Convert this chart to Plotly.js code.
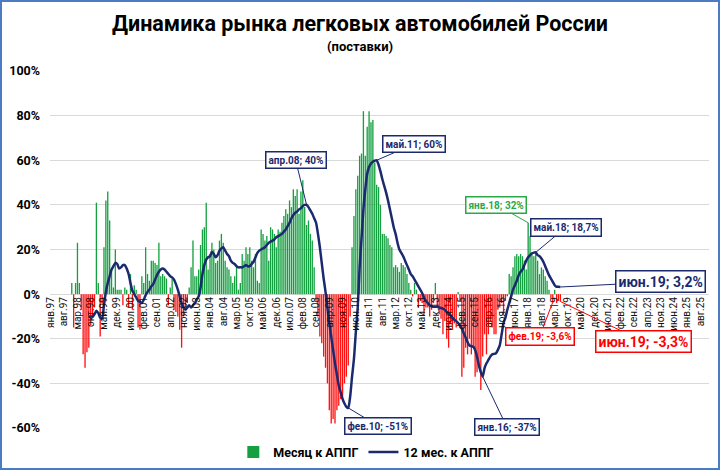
<!DOCTYPE html>
<html>
<head>
<meta charset="utf-8">
<script src="https://cdn.plot.ly/plotly-3.0.1.min.js"></script>
<style>
body { margin: 0; background: #fff; }
#chart { width: 716px; height: 466px; border: 2px solid #4a7bc4; }
</style>
</head>
<body>
<div id="chart"></div>
<script>
var monthNames = ['янв', 'фев', 'мар', 'апр', 'май', 'июн', 'июл', 'авг', 'сен', 'окт', 'ноя', 'дек'];
var firstYear = 1997;
var lastYear = 2025;

// Месяц к АППГ, %, янв.97 - июн.19
var monthly = [
    null, null, null, null, null, null, null, null, null, null, null, 5,   // 1997
    -15, 5, 23, 5, -7, -27, -33, -26, -24, -14, -10, -6,                  // 1998
    41, 5, -19, -4, 21, 42, 46, 33, 12, 3, 20, 2,                         // 1999
    2, 2, -5, 3, 2, -6, 9, -7, 4, 2, -15, -16,                            // 2000
    8, 5, 21, 9, 6, 15, 15, 14, 13, 23, 8, 9,                             // 2001
    8, 7, -5, 3, 7, -7, -8, -10, -16, -24, -10, -6,                       // 2002
    -4, 3, 12, 24, 8, 8, 11, 22, 29, 30, 41, 11,                          // 2003
    18, 23, 20, 14, 15, 24, 27, 23, 15, 12, 11, 8,                        // 2004
    5, 8, 12, 2, 5, 18, 15, 21, 18, 21, 15, 12,                           // 2005
    18, 6, 5, 29, 27, 24, 26, 15, 30, 29, 27, 21,                         // 2006
    29, 28, 32, 35, 38, 36, 42, 39, 47, 44, 47, 36,                       // 2007
    46, 51, 39, 31, 33, 27, 24, 12, -3, -10, -19, -22,                    // 2008
    -28, -33, -40, -52, -58, -56, -58, -52, -50, -47, -46, -40,           // 2009
    -37, -32, -10, 21, 35, 47, 53, 62, 63, 82, 62, 75,                    // 2010
    82, 77, 78, 59, 49, 48, 40, 27, 27, 26, 25, 22,                       // 2011
    21, 12, 13, 12, 10, 14, 13, 12, 9, 5, 2, -1,                          // 2012
    5, 2, -6, -3, -4, -9, -6, -6, -10, -7, -4, 5,                         // 2013
    -6, -9, -11, -18, -12, -20, -24, -13, -16, -13, -15, 1,               // 2014
    -3, -37, -33, -24, -27, -20, -27, -24, -37, -35, -33, -43,            // 2015
    -28, -18, -27, -18, -12, -15, -18, -18, -7, -6, -4, -9,               // 2016
    -3, -1, 9, 8, 12, 17, 18, 17, 18, 17, 15, 11,                         // 2017
    32, 26, 18, 17, 19, 15, 9, 12, 11, 8, 6, 2,                           // 2018
    -2, -3.6, 2, -4, -3, -3.3                                             // 2019
];

// 12 мес. к АППГ, %, сен.98 - июн.19
var rollingStart = 20;
var rolling12 = [
    -10, -10, -10, -9,                                                    // 1998
    -7.5, -8.5, -10.5, -11, -5, 1, 5, 8, 11, 12.5, 14, 13.5,              // 1999
    11.5, 12, 13, 13, 11.5, 9, 5, 1.5, 0, -1.5, -3, -3.5,                 // 2000
    -4, -2.5, -0.5, 1, 2, 3.5, 4.5, 6.5, 8.5, 10, 11, 11.5,               // 2001
    11, 10, 9, 8, 7.5, 6.5, 4.5, 2, -1, -4, -6, -7,                       // 2002
    -6, -5, -6, -5, -4, -2.5, -1, 3, 9, 13, 15.5, 16.5,                   // 2003
    17, 19, 18, 16.5, 17.5, 19.5, 20.5, 21, 19.5, 18, 17, 15,             // 2004
    14, 13.5, 12.5, 12, 12, 12, 12.5, 13, 12.5, 12.5, 13.5, 14.5,         // 2005
    16.5, 18.5, 19.5, 20, 20.5, 21, 22, 23, 23.5, 24, 24.5, 25.5,         // 2006
    26, 26.5, 27, 28, 29, 30.5, 32, 34, 35.5, 36.5, 37, 38,               // 2007
    38.5, 39.5, 40, 40, 39, 37.5, 36, 34, 32, 27, 21, 14,                 // 2008
    7, 1, -6, -13, -19, -25, -31, -36, -41, -44, -47, -49,                // 2009
    -50.5, -51, -46, -37, -29, -17, -6, 12, 25, 38, 47, 54,               // 2010
    57, 58.5, 59.3, 59.8, 60, 58, 55, 51.5, 48.5, 45.5, 42, 38,           // 2011
    34, 30, 27, 23, 20, 18.5, 17, 15, 13, 11, 9, 8,                       // 2012
    6.5, 5, 3.5, 2, 0.5, -1.5, -3, -4, -5, -5.5, -5.7, -5.7,              // 2013
    -5.7, -6, -6.2, -6.5, -7, -8, -8.5, -9.5, -10.5, -11.5, -12, -13,     // 2014
    -14, -15.5, -17.5, -19.5, -21.5, -23, -23.3, -23.6, -25, -28, -32, -35, // 2015
    -37, -33, -31, -29.5, -28, -27, -26.8, -26.5, -25, -23, -18, -13,     // 2016
    -10.5, -7, -4, -1, 2, 4, 6, 8.5, 10, 11, 13, 15,                      // 2017
    16.5, 17.5, 18.3, 18.6, 18.7, 17.5, 17, 16, 14.5, 12.5, 10.5, 8.5,    // 2018
    7, 5.5, 4, 3.3, 3.3, 3.2                                              // 2019
];

var yTicks = [-60, -40, -20, 0, 20, 40, 60, 80, 100];

// категории: все месяцы с янв.97 по дек.25
var categories = [];
for (var yr = firstYear; yr <= lastYear; yr++) {
    for (var mo = 0; mo < 12; mo++) {
        categories.push(monthNames[mo] + '.' + String(yr).slice(2));
    }
}
var tickLabels = categories.filter(function (c, i) { return i % 7 === 0; });

var barX = categories.slice(0, monthly.length);
var positive = monthly.map(function (v) { return v !== null && v >= 0 ? v : null; });
var negative = monthly.map(function (v) { return v !== null && v < 0 ? v : null; });

var navy = '#1b2a6e';
var red = '#ff0000';
var green = '#2aa84a';

var data = [
    {
        x: barX, y: positive, type: 'bar', name: 'Месяц к АППГ',
        marker: { color: '#14a040' }, hoverinfo: 'skip'
    },
    {
        x: barX, y: negative, type: 'bar', name: 'Месяц к АППГ (-)',
        marker: { color: '#ff1010' }, showlegend: false, hoverinfo: 'skip'
    },
    {
        x: categories.slice(rollingStart, rollingStart + rolling12.length),
        y: rolling12, type: 'scatter', mode: 'lines', name: '12 мес. к АППГ',
        line: { color: navy, width: 2.5, shape: 'spline', smoothing: 0.6 },
        hoverinfo: 'skip'
    }
];

// выноски
var callouts = [
    { at: 'апр.08', series: 'line', text: 'апр.08; 40%', ax: -11, ay: -45, color: navy, size: 10 },
    { at: 'май.11', series: 'line', text: 'май.11; 60%', ax: 37, ay: -16, color: navy, size: 10 },
    { at: 'фев.10', series: 'line', text: 'фев.10; -51%', ax: 30, ay: 18, color: navy, size: 10 },
    { at: 'янв.16', series: 'line', text: 'янв.16; -37%', ax: 24, ay: 50, color: navy, size: 10 },
    { at: 'янв.18', series: 'bar', text: 'янв.18; 32%', ax: -32, ay: -18, color: green, size: 10 },
    { at: 'май.18', series: 'line', text: 'май.18; 18,7%', ax: 30, ay: -25, color: navy, size: 10 },
    { at: 'июн.19', series: 'line', text: 'июн.19; 3,2%', ax: 100, ay: -5, color: navy, size: 14 },
    { at: 'фев.19', series: 'bar', text: 'фев.19; -3,6%', ax: -13, ay: 34, color: red, size: 10 },
    { at: 'июн.19', series: 'bar', text: 'июн.19; -3,3%', ax: 83, ay: 40, color: red, size: 14 }
];

var annotations = callouts.map(function (c) {
    var idx = categories.indexOf(c.at);
    var val = c.series === 'line' ? rolling12[idx - rollingStart] : monthly[idx];
    return {
        x: c.at, y: val, xref: 'x', yref: 'y',
        text: '<b>' + c.text + '</b>',
        showarrow: true, arrowhead: 0, arrowwidth: 1, arrowcolor: c.color,
        ax: c.ax, ay: c.ay,
        bordercolor: c.color, borderwidth: 1.5, borderpad: 2, bgcolor: '#fff',
        font: { size: c.size, color: c.color }
    };
});

annotations.push({
    text: '<b>(поставки)</b>', xref: 'paper', yref: 'paper',
    x: 0.47, y: 1.07, xanchor: 'center', yanchor: 'middle',
    showarrow: false, font: { size: 13, color: '#000' }
});

var layout = {
    width: 716,
    height: 466,
    margin: { l: 48, r: 9, t: 69, b: 40, autoexpand: false },
    paper_bgcolor: '#fff',
    plot_bgcolor: '#fff',
    font: { family: 'Roboto, "DejaVu Sans", sans-serif', color: '#000' },
    title: {
        text: '<b>Динамика рынка легковых автомобилей России</b>',
        font: { size: 21.5, color: '#000' },
        x: 0.5, xref: 'container', xanchor: 'center',
        y: 0.953, yref: 'container', yanchor: 'middle'
    },
    barmode: 'overlay',
    bargap: 0.3,
    showlegend: true,
    legend: {
        orientation: 'h', x: 0.48, xanchor: 'center', y: -0.068, yanchor: 'middle',
        font: { size: 12.5, weight: 'bold', color: '#000' }
    },
    xaxis: {
        type: 'category',
        categoryorder: 'array',
        categoryarray: categories,
        range: [-0.5, categories.length - 0.5],
        tickmode: 'array',
        tickvals: tickLabels,
        ticktext: tickLabels,
        tickangle: -90,
        tickfont: { size: 10, color: '#111' },
        showgrid: false, zeroline: false, showline: false, ticks: '',
        automargin: false,
        anchor: 'free', position: 0.375
    },
    yaxis: {
        range: [-60, 100],
        tickmode: 'array',
        tickvals: yTicks,
        ticktext: yTicks.map(function (v) { return v + '%'; }),
        tickfont: { size: 12.5, weight: 'bold', color: '#000' },
        ticklabelstandoff: 9,
        automargin: false,
        gridcolor: '#d9d9d9', zeroline: true, zerolinecolor: '#d9d9d9', zerolinewidth: 1,
        showline: false, ticks: ''
    },
    annotations: annotations
};

Plotly.newPlot('chart', data, layout, { displayModeBar: false, staticPlot: true });
</script>
</body>
</html>
